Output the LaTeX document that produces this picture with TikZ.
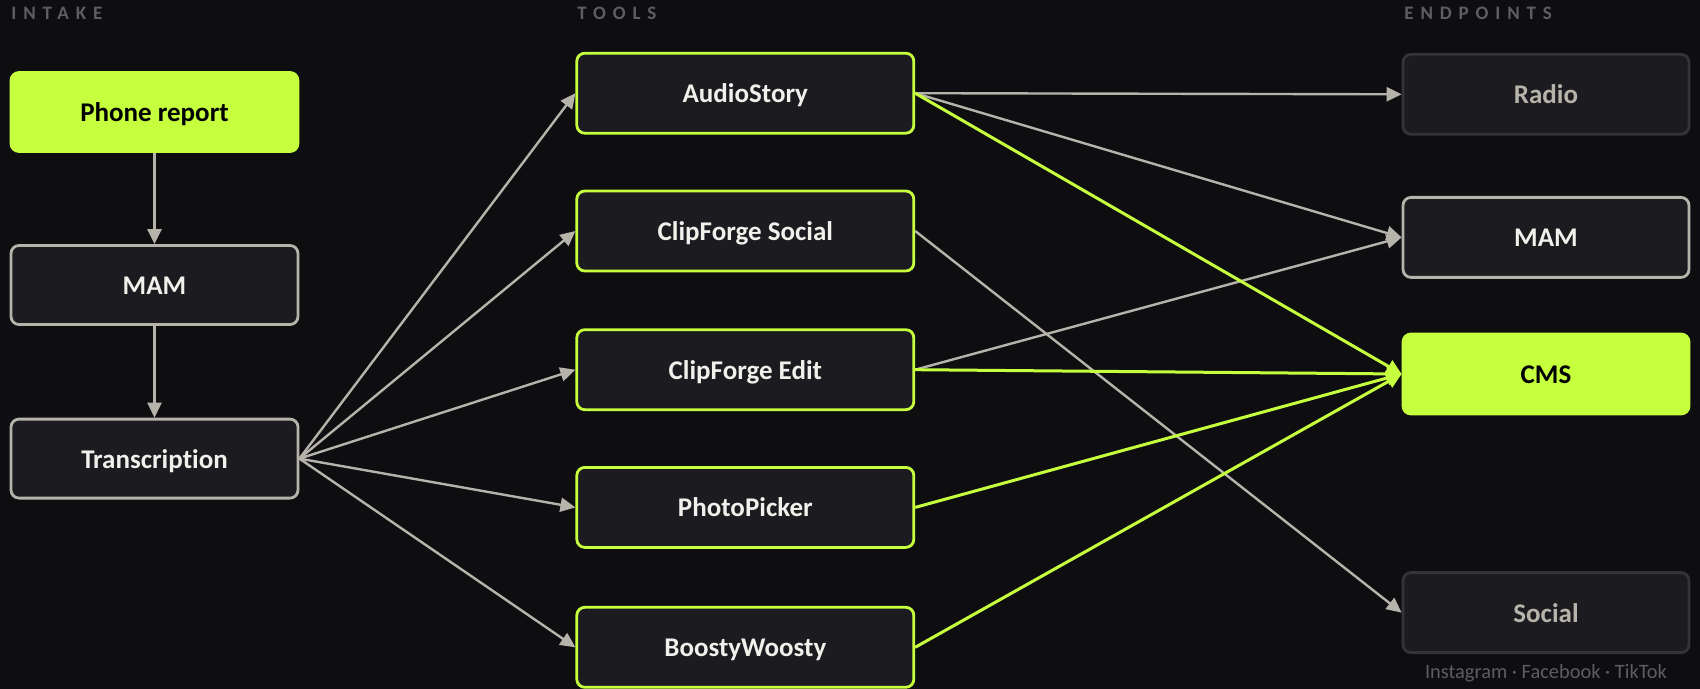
\documentclass[tikz,border=0pt]{standalone}
\usepackage{fontspec}
\setmainfont{Carlito}[Ligatures=NoCommon]
\usetikzlibrary{arrows.meta,positioning}
\definecolor{fundal}{HTML}{0E0E11}
\definecolor{cutie}{HTML}{1C1B20}
\definecolor{gri}{HTML}{B6B3AB}
\definecolor{grichis}{HTML}{34333A}
\definecolor{lime}{HTML}{C6FF3D}
\definecolor{textalb}{HTML}{F2F0EB}
\definecolor{titlugri}{HTML}{5E5D63}
\tikzset{
  bloc/.style        = {draw=gri, fill=cutie, rounded corners=4pt, line width=1.4pt,
                        align=center, minimum height=39.5pt, text=textalb,
                        text height=2ex, text depth=0pt,
                        font=\bfseries\fontsize{13.5}{15}\selectfont},
  blocintrare/.style = {bloc, minimum width=143.5pt},
  blocunealta/.style = {bloc, draw=lime, minimum width=168.5pt, minimum height=40pt},
  blocfinal/.style   = {bloc, draw=grichis, text=gri, minimum width=143pt, minimum height=40pt},
  blocactiv/.style   = {fill=lime, draw=lime, text=black},
  titlu/.style       = {anchor=west, text=titlugri, inner sep=0pt,
                        font=\bfseries\fontsize{9.5}{12}\selectfont\addfontfeature{LetterSpace=36}},
  nota/.style        = {text=titlugri, inner sep=0pt, font=\fontsize{10.2}{12}\selectfont},
  sageata/.style     = {-{Triangle[length=7.5pt,width=7pt]}, draw=gri, line width=1.2pt},
  sageatalime/.style = {sageata, draw=lime, line width=1.5pt}
}

\begin{document}
\begin{tikzpicture}[x=0.5pt, y=-0.5pt]
    \fill[fundal] (0,0) rectangle (1700,689);
    \useasboundingbox (0,0) rectangle (1700,689);

    \node[titlu] (tintrare) at (11,13) {INTAKE};
    \node[titlu] (tunelte) at (577,13) {TOOLS};
    \node[titlu] (tfinal) at (1404,13) {ENDPOINTS};

    % intrare
    \node[blocintrare, blocactiv] (phone) at (154.5,112) {Phone report};
    \node[blocintrare] (mam) at (154.5,285) {MAM};
    \node[blocintrare] (trans) at (154.5,458.6) {Transcription};

    % unelte
    \node[blocunealta] (audio) at (745.3,93.2) {AudioStory};
    \node[blocunealta] (social) at (745.3,231) {ClipForge Social};
    \node[blocunealta] (edit) at (745.3,369.7) {ClipForge Edit};
    \node[blocunealta] (photo) at (745.3,507.4) {PhotoPicker};
    \node[blocunealta] (boosty) at (745.3,647.3) {BoostyWoosty};

    % destinatii
    \node[blocfinal] (radio) at (1546,94.3) {Radio};
    \node[blocfinal, draw=gri, text=textalb] (mamf) at (1546,237.4) {MAM};
    \node[blocfinal, blocactiv] (cms) at (1546,374) {CMS};
    \node[blocfinal] (socialf) at (1546,612.6) {Social};
    \node[nota, below=5pt of socialf] (retele) {Instagram · Facebook · TikTok};

    \draw[sageata] (phone) -- (mam);
    \draw[sageata] (mam) -- (trans);
    \foreach \u in {audio,social,edit,photo,boosty}
        \draw[sageata] (trans.east) -- (\u.west);

    \draw[sageata] (audio.east) -- (radio.west);
    \draw[sageata] (audio.east) -- (mamf.west);
    \draw[sageata] (edit.east) -- (mamf.west);
    \draw[sageata] (social.east) -- (socialf.west);

    \foreach \u in {audio,edit,photo,boosty}
        \draw[sageatalime] (\u.east) -- (cms.west);
\end{tikzpicture}
\end{document}
